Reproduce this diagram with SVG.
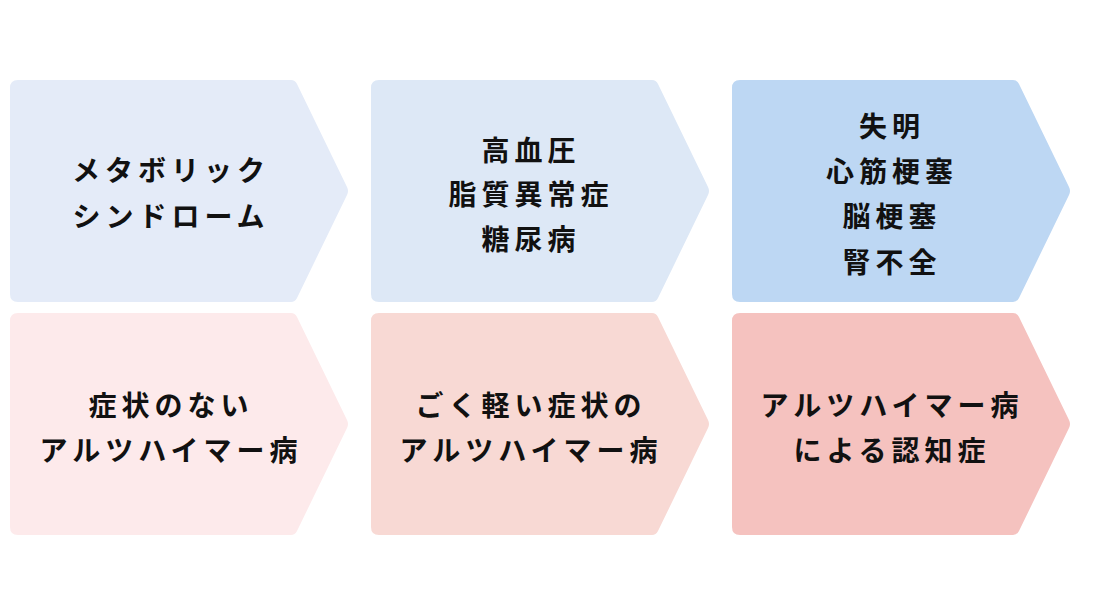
<svg xmlns="http://www.w3.org/2000/svg" width="1093" height="615" viewBox="0 0 1093 615">
<style>
text{font-family:"Noto Sans CJK JP","Noto Sans CJK SC",sans-serif;font-weight:700;font-size:28px;fill:#111;text-anchor:middle;letter-spacing:5px}
</style>
<defs>
<path id="chev" d="M8,0 H281 Q285,0 287,4 L337,107 Q339,111 337,115 L287,218 Q285,222 281,222 H8 Q0,222 0,214 V8 Q0,0 8,0 Z"/>
</defs>
<rect width="1093" height="615" fill="#fff"/>
<g id="n1"><use href="#chev" x="10" y="80" fill="#E4EBF8"/>
<text x="171" y="181">メタボリック</text><text x="171" y="227">シンドローム</text></g>
<g id="n2"><use href="#chev" x="371" y="80" fill="#DDE8F6"/>
<text x="531" y="161">高血圧</text><text x="531" y="205">脂質異常症</text><text x="531" y="250">糖尿病</text></g>
<g id="n3"><use href="#chev" x="732" y="80" fill="#BDD7F3"/>
<text x="892" y="137">失明</text><text x="892" y="182">心筋梗塞</text><text x="892" y="227">脳梗塞</text><text x="892" y="273">腎不全</text></g>
<g id="n4"><use href="#chev" x="10" y="313" fill="#FDEAEB"/>
<text x="171" y="416">症状のない</text><text x="171" y="461">アルツハイマー病</text></g>
<g id="n5"><use href="#chev" x="371" y="313" fill="#F8D9D4"/>
<text x="531" y="416">ごく軽い症状の</text><text x="531" y="461">アルツハイマー病</text></g>
<g id="n6"><use href="#chev" x="732" y="313" fill="#F5C2BF"/>
<text x="892" y="416">アルツハイマー病</text><text x="892" y="461">による認知症</text></g>
<g id="connectors"/>
</svg>
